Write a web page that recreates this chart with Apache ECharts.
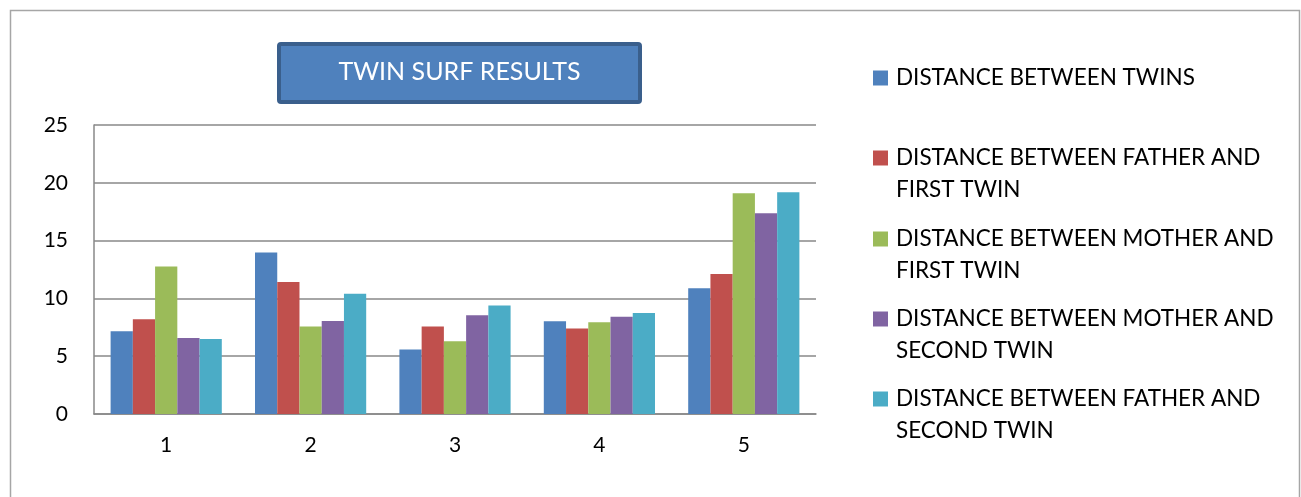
<!DOCTYPE html>
<html>
<head>
<meta charset="utf-8">
<script src="https://cdn.jsdelivr.net/npm/echarts@6/dist/echarts.min.js"></script>
<style>
html,body{margin:0;padding:0;background:#fff;}
#chart{width:1301px;height:497px;}
</style>
</head>
<body>
<div id="chart"></div>
<script>
const categories = ['1', '2', '3', '4', '5'];
const seriesNames = [
  'DISTANCE BETWEEN TWINS',
  'DISTANCE BETWEEN FATHER AND\nFIRST TWIN',
  'DISTANCE BETWEEN MOTHER AND\nFIRST TWIN',
  'DISTANCE BETWEEN MOTHER AND\nSECOND TWIN',
  'DISTANCE BETWEEN FATHER AND\nSECOND TWIN'
];
const betweenTwins = [7.15, 13.96, 5.57, 8.02, 10.87];
const fatherFirstTwin = [8.19, 11.42, 7.56, 7.39, 12.11];
const motherFirstTwin = [12.75, 7.56, 6.29, 7.93, 19.09];
const motherSecondTwin = [6.58, 8.05, 8.54, 8.42, 17.36];
const fatherSecondTwin = [6.49, 10.41, 9.38, 8.74, 19.18];
const yTicks = [0, 5, 10, 15, 20, 25];
const titleText = 'TWIN SURF RESULTS';
const colors = ['#4F81BD', '#C0504D', '#9BBB59', '#8064A2', '#4BACC6'];

const allValues = [betweenTwins, fatherFirstTwin, motherFirstTwin, motherSecondTwin, fatherSecondTwin];
const FONT = 'Lato';

const chart = echarts.init(document.getElementById('chart'), null, {renderer: 'canvas'});

const legendTops = [78, 158, 239, 319, 399];
const legendGraphics = [];
seriesNames.forEach((name, i) => {
  legendGraphics.push({
    type: 'rect',
    shape: {x: 873, y: legendTops[i] - 7.5, width: 15, height: 15},
    style: {fill: colors[i]}
  });
  legendGraphics.push({
    type: 'text',
    x: 896,
    y: legendTops[i] - 16,
    style: {
      text: name,
      font: '22.5px ' + FONT,
      fill: '#000',
      lineHeight: 32,
      verticalAlign: 'top'
    }
  });
});

const option = {
  animation: false,
  backgroundColor: '#fff',
  color: colors,
  grid: {left: 94, top: 125, width: 722, height: 289, containLabel: false},
  xAxis: {
    type: 'category',
    data: categories,
    axisTick: {show: false},
    axisLine: {show: true, lineStyle: {color: '#888', width: 1.5}},
    axisLabel: {color: '#000', fontFamily: FONT, fontSize: 21, margin: 21}
  },
  yAxis: {
    type: 'value',
    min: yTicks[0],
    max: yTicks[yTicks.length - 1],
    interval: yTicks[1] - yTicks[0],
    axisLine: {show: true, lineStyle: {color: '#888', width: 1.5}},
    axisTick: {show: false},
    splitLine: {show: true, lineStyle: {color: '#888', width: 1.5}},
    axisLabel: {color: '#000', fontFamily: FONT, fontSize: 21, margin: 26}
  },
  series: seriesNames.map((name, i) => ({
    name: name,
    type: 'bar',
    data: allValues[i],
    barGap: '0%',
    barCategoryGap: '23%',
    itemStyle: {color: colors[i]}
  })),
  graphic: [
    {
      type: 'rect',
      shape: {x: 10.5, y: 10.5, width: 1289, height: 520},
      style: {fill: 'none', stroke: '#a6a6a6', lineWidth: 1.5},
      silent: true
    },
    {
      type: 'rect',
      shape: {x: 279, y: 44, width: 361, height: 58, r: 2},
      style: {fill: '#4F81BD', stroke: '#3A5F8C', lineWidth: 4}
    },
    {
      type: 'text',
      x: 459.5,
      y: 72,
      style: {
        text: titleText,
        font: '25px ' + FONT,
        fill: '#fff',
        align: 'center',
        verticalAlign: 'middle'
      }
    }
  ].concat(legendGraphics)
};
chart.setOption(option);
</script>
</body>
</html>
